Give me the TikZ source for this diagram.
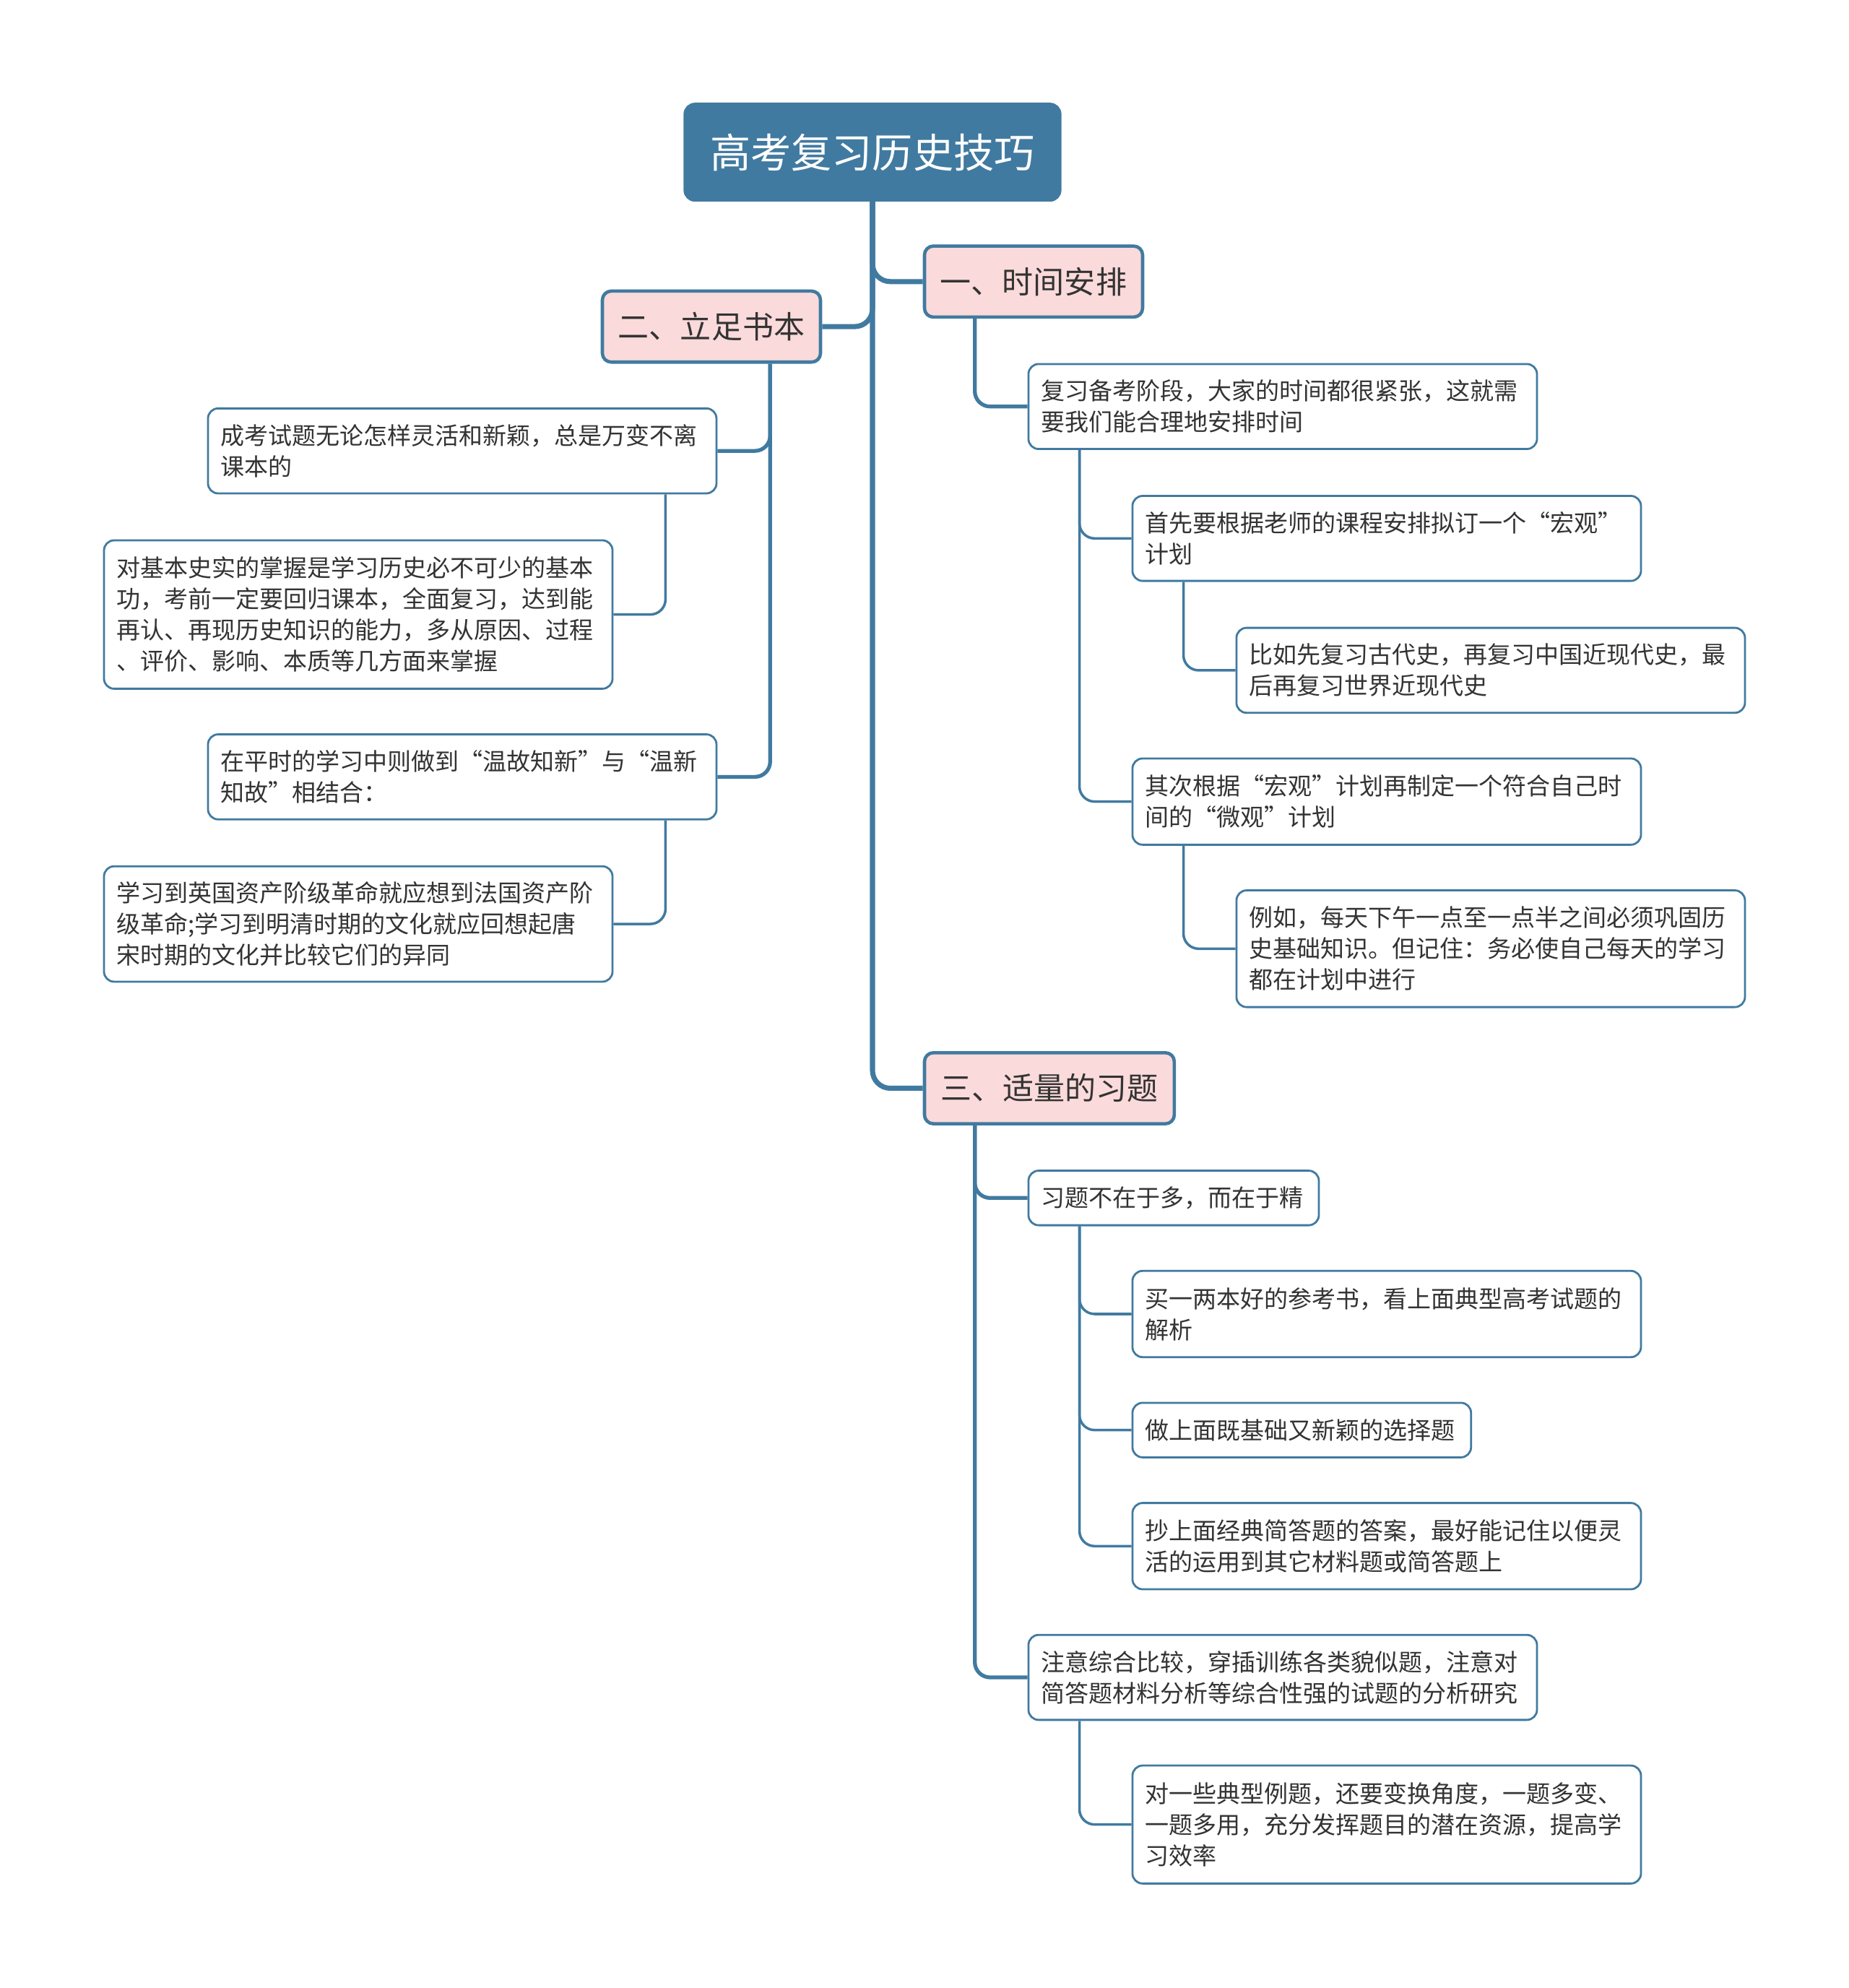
\documentclass[tikz,border=0pt]{standalone}
\usepackage{fontspec}
\setmainfont{Noto Sans CJK SC}
\definecolor{mblue}{HTML}{417AA0}
\definecolor{mpink}{HTML}{FADADA}
\definecolor{txt}{HTML}{333333}
\tikzset{
  rootbox/.style={draw=mblue, fill=mblue, line width=2pt, rounded corners=8pt, text=white,
    font=\fontsize{32}{38}\selectfont, inner sep=0pt, minimum width=296pt, minimum height=76pt},
  branchbox/.style={draw=mblue, fill=mpink, line width=2.6pt, rounded corners=7pt, text=txt,
    font=\fontsize{24.5}{30}\selectfont, inner sep=0pt, minimum height=56pt},
  leafbox/.style={draw=mblue, fill=white, line width=1.6pt, rounded corners=8pt, text=txt,
    font=\fontsize{18.8}{24.5}\selectfont, align=left, inner xsep=10pt, inner ysep=0pt,
    text width=381pt},
  conn0/.style={draw=mblue, line width=4pt, rounded corners=14pt},
  conn1/.style={draw=mblue, line width=3pt, rounded corners=12pt},
  conn2/.style={draw=mblue, line width=2pt, rounded corners=12pt},
}
\begin{document}
\begin{tikzpicture}[x=1pt,y=-1pt]
\useasboundingbox (0,0) rectangle (1458,1567.4);
% root and main branches
\node[rootbox] (root) at (688,120) {高考复习历史技巧};
\node[branchbox, minimum width=172pt] (b1) at (815,222) {一、时间安排};
\node[branchbox, minimum width=172pt] (b2) at (561,257.5) {二、立足书本};
\node[branchbox, minimum width=197pt] (b3) at (827.5,858) {三、适量的习题};
% branch 1
\node[leafbox, minimum height=67pt] (c11) at (1011.5,320.5) {复习备考阶段，大家的时间都很紧张，这就需\\要我们能合理地安排时间};
\node[leafbox, minimum height=67pt] (d111) at (1093.5,424.5) {首先要根据老师的课程安排拟订一个“宏观”\\计划};
\node[leafbox, minimum height=67pt] (e1111) at (1175.5,528.5) {比如先复习古代史，再复习中国近现代史，最\\后再复习世界近现代史};
\node[leafbox, minimum height=68pt] (d112) at (1093.5,632) {其次根据“宏观”计划再制定一个符合自己时\\间的“微观”计划};
\node[leafbox, minimum height=92pt] (e1121) at (1175.5,748) {例如，每天下午一点至一点半之间必须巩固历\\史基础知识。但记住：务必使自己每天的学习\\都在计划中进行};
% branch 2
\node[leafbox, minimum height=67pt] (c21) at (364.5,355.5) {成考试题无论怎样灵活和新颖，总是万变不离\\课本的};
\node[leafbox, minimum height=117pt] (d211) at (282.5,484.5) {对基本史实的掌握是学习历史必不可少的基本\\功，考前一定要回归课本，全面复习，达到能\\再认、再现历史知识的能力，多从原因、过程\\、评价、影响、本质等几方面来掌握};
\node[leafbox, minimum height=67pt] (c22) at (364.5,612.5) {在平时的学习中则做到“温故知新”与“温新\\知故”相结合：};
\node[leafbox, minimum height=91pt] (d221) at (282.5,728.5) {学习到英国资产阶级革命就应想到法国资产阶\\级革命;学习到明清时期的文化就应回想起唐\\宋时期的文化并比较它们的异同};
% branch 3
\node[leafbox, text width=209pt, minimum height=43pt] (c31) at (925.5,944.5) {习题不在于多，而在于精};
\node[leafbox, minimum height=68pt] (d311) at (1093.5,1036) {买一两本好的参考书，看上面典型高考试题的\\解析};
\node[leafbox, text width=247pt, minimum height=43pt] (d312) at (1026.5,1127.5) {做上面既基础又新颖的选择题};
\node[leafbox, minimum height=68pt] (d313) at (1093.5,1219) {抄上面经典简答题的答案，最好能记住以便灵\\活的运用到其它材料题或简答题上};
\node[leafbox, minimum height=67pt] (c32) at (1011.5,1322.5) {注意综合比较，穿插训练各类貌似题，注意对\\简答题材料分析等综合性强的试题的分析研究};
\node[leafbox, minimum height=93pt] (d321) at (1093.5,1438.5) {对一些典型例题，还要变换角度，一题多变、\\一题多用，充分发挥题目的潜在资源，提高学\\习效率};
% connectors
\draw[conn0] (root.south) |- (b1.west);
\draw[conn0] (root.south) |- (b2.east);
\draw[conn0] (root.south) |- (b3.west);
\draw[conn1] ([xshift=41pt]b1.south west) |- (c11.west);
\draw[conn2] ([xshift=41pt]c11.south west) |- (d111.west);
\draw[conn2] ([xshift=41pt]c11.south west) |- (d112.west);
\draw[conn2] ([xshift=41pt]d111.south west) |- (e1111.west);
\draw[conn2] ([xshift=41pt]d112.south west) |- (e1121.west);
\draw[conn1] ([xshift=-41pt]b2.south east) |- (c21.east);
\draw[conn1] ([xshift=-41pt]b2.south east) |- (c22.east);
\draw[conn2] ([xshift=-41pt]c21.south east) |- (d211.east);
\draw[conn2] ([xshift=-41pt]c22.south east) |- (d221.east);
\draw[conn1] ([xshift=41pt]b3.south west) |- (c31.west);
\draw[conn1] ([xshift=41pt]b3.south west) |- (c32.west);
\draw[conn2] ([xshift=41pt]c31.south west) |- (d311.west);
\draw[conn2] ([xshift=41pt]c31.south west) |- (d312.west);
\draw[conn2] ([xshift=41pt]c31.south west) |- (d313.west);
\draw[conn2] ([xshift=41pt]c32.south west) |- (d321.west);
\end{tikzpicture}
\end{document}
